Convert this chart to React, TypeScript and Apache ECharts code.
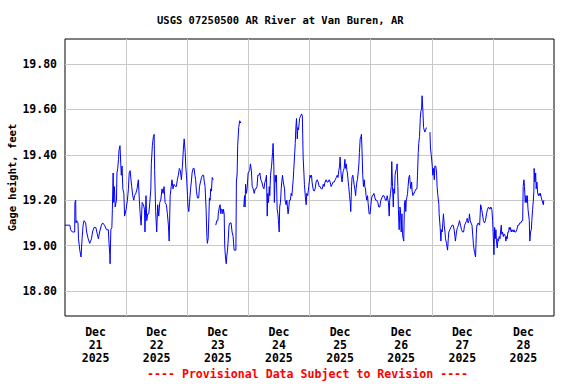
import React, { useEffect, useRef } from "react";
import * as echarts from "echarts";

// Gage height (feet), [hours since Dec 21 00:00, value]; null = data gap
const dec21: (number | null)[][] = [
  [0, 19.09], [1.9, 19.09], [2.2, 19.07], [2.9, 19.06], [3.8, 19.06], [3.9, 19.19], [4.2, 19.2], [4.3, 19.1], [4.6, 19.11], [5.1, 19.1],
  [5.3, 19.03], [5.8, 18.98], [6.3, 18.95], [6.7, 19.03], [7.1, 19.09], [7.5, 19.11], [8.1, 19.1], [8.5, 19.06], [9.1, 19.03], [9.7, 19.01],
  [10.4, 19.03], [10.8, 19.06], [11.4, 19.08], [12.1, 19.08], [12.5, 19.06], [13.1, 19.03], [13.6, 19.06], [14.3, 19.09], [14.8, 19.1], [15.5, 19.09],
  [16.3, 19.07], [17.0, 19.07], [17.3, 19.01], [17.6, 18.96], [17.7, 18.92], [18.0, 19.07], [18.4, 19.08], [18.6, 19.16], [18.9, 19.32], [19.1, 19.19],
  [19.4, 19.26], [19.7, 19.17], [20.2, 19.2], [20.4, 19.32], [20.7, 19.34], [21.0, 19.38], [21.2, 19.42], [21.6, 19.44], [21.9, 19.36], [22.1, 19.31],
  [22.4, 19.35], [22.7, 19.25], [23.1, 19.23], [23.4, 19.13],
];
const dec22: (number | null)[][] = [
  [24.0, 19.16], [24.5, 19.2], [24.9, 19.25], [25.2, 19.32], [25.6, 19.33], [25.9, 19.29], [26.2, 19.26], [26.6, 19.22], [27.0, 19.2], [27.3, 19.22],
  [27.8, 19.23], [28.3, 19.25], [28.8, 19.29], [29.2, 19.2], [29.5, 19.14], [29.9, 19.09], [30.3, 19.19], [30.8, 19.18], [31.2, 19.16], [31.4, 19.06],
  [31.8, 19.22], [32.1, 19.11], [32.5, 19.14], [32.9, 19.14], [33.3, 19.19], [33.7, 19.25], [33.9, 19.36], [34.3, 19.44], [34.7, 19.48], [35.0, 19.49],
  [35.2, 19.33], [35.6, 19.15], [36.0, 19.06], [36.4, 19.18], [36.8, 19.13], [37.2, 19.19], [37.6, 19.2], [38.1, 19.25], [38.5, 19.23], [38.9, 19.26],
  [39.3, 19.19], [39.8, 19.18], [40.2, 19.14], [40.6, 19.09], [40.9, 19.02], [41.3, 19.22], [41.7, 19.26], [42.0, 19.29], [42.4, 19.25], [42.8, 19.27],
  [43.4, 19.26], [43.7, 19.26], [44.1, 19.29], [44.5, 19.31], [44.9, 19.34], [45.3, 19.33], [45.7, 19.29], [46.1, 19.35], [46.5, 19.43], [46.8, 19.47],
  [47.2, 19.41], [47.4, 19.35], [47.7, 19.31],
];
const dec23: (number | null)[][] = [
  [48.1, 19.22], [48.3, 19.17], [48.6, 19.15], [48.9, 19.19], [49.3, 19.25], [49.6, 19.28], [49.9, 19.32], [50.3, 19.34], [50.7, 19.34], [51.0, 19.31],
  [51.3, 19.29], [51.6, 19.24], [52.0, 19.21], [52.5, 19.21], [52.8, 19.26], [53.2, 19.28], [53.6, 19.3], [54.0, 19.31], [54.4, 19.31], [54.7, 19.28],
  [55.0, 19.26], [55.4, 19.16], [55.7, 19.04], [55.9, 19.01], [56.2, 19.03], [56.5, 19.13], [56.7, 19.21], [57.0, 19.2], [57.2, 19.25], [57.5, 19.24],
  [57.8, 19.3], [58.2, 19.29], [58.6, null], [59.2, 19.09], [59.6, 19.11], [60.0, 19.11], [60.2, 19.14], [60.6, 19.17], [60.9, 19.18], [61.2, 19.14],
  [61.4, 19.16], [61.7, 19.16], [62.0, 19.14], [62.2, 19.16], [62.5, 19.14], [62.7, 19.0], [63.0, 18.95], [63.3, 18.92], [63.5, 18.95], [63.8, 18.98],
  [64.0, 19.01], [64.4, 19.09], [64.8, 19.1], [65.2, 19.1], [65.6, 19.06], [66.0, 19.04], [66.4, 18.98], [66.7, 18.98], [67.1, 18.98], [67.3, 19.28],
  [67.6, 19.32], [67.8, 19.44], [68.2, 19.52], [68.6, 19.55], [69.0, 19.54], [69.5, null], [70.2, 19.17], [70.5, 19.22], [70.7, 19.17], [70.9, 19.27],
  [71.2, 19.23], [71.5, 19.25], [71.9, 19.32],
];
const dec24: (number | null)[][] = [
  [72.5, 19.33], [72.8, 19.36], [73.2, 19.33], [73.5, 19.26], [73.9, 19.25], [74.3, 19.23], [74.7, 19.25], [75.0, 19.25], [75.4, 19.26], [75.7, 19.31],
  [76.1, 19.31], [76.5, 19.32], [76.9, 19.29], [77.3, 19.28], [77.7, 19.26], [78.1, 19.25], [78.5, 19.28], [78.8, 19.29], [79.1, 19.31], [79.4, 19.13],
  [79.6, 19.23], [79.9, 19.19], [80.2, 19.26], [80.4, 19.22], [80.7, 19.31], [81.1, 19.35], [81.5, 19.41], [81.7, 19.45], [82.0, 19.35], [82.2, 19.19],
  [82.5, 19.31], [82.8, 19.28], [83.0, 19.31], [83.3, 19.16], [83.6, 19.14], [83.8, 19.11], [84.1, 19.06], [84.3, 19.17], [84.6, 19.19], [84.9, 19.25],
  [85.1, 19.28], [85.4, 19.31], [85.7, 19.28], [85.9, 19.28], [86.2, 19.25], [86.4, 19.2], [86.8, 19.18], [87.1, 19.2], [87.4, 19.16], [87.6, 19.14],
  [87.9, 19.17], [88.1, 19.2], [88.5, 19.2], [88.8, 19.23], [89.1, 19.22], [89.3, 19.25], [89.6, 19.29], [89.8, 19.33], [90.1, 19.39], [90.4, 19.45],
  [90.6, 19.51], [90.9, 19.56], [91.2, 19.47], [91.4, 19.52], [91.7, 19.51], [92.1, 19.56], [92.5, 19.57], [92.9, 19.58], [93.2, 19.57], [93.5, 19.39],
  [93.8, 19.32], [94.0, 19.27], [94.4, 19.21], [94.7, 19.18], [94.9, 19.23], [95.3, 19.22], [95.7, 19.26],
];
const dec25: (number | null)[][] = [
  [96.2, 19.31], [96.5, 19.3], [96.8, 19.31], [97.0, 19.28], [97.4, 19.25], [97.8, 19.24], [98.2, 19.25], [98.6, 19.28], [99.0, 19.29], [99.4, 19.28],
  [99.8, 19.26], [100.2, 19.26], [100.6, 19.25], [101.0, 19.25], [101.4, 19.27], [101.7, 19.26], [102.1, 19.28], [102.5, 19.29], [102.9, 19.28], [103.3, 19.28],
  [103.7, 19.29], [104.1, 19.28], [104.5, 19.26], [104.9, 19.27], [105.3, 19.28], [105.7, 19.28], [106.1, 19.29], [106.5, 19.3], [106.9, 19.31], [107.2, 19.3],
  [107.5, 19.33], [107.8, 19.35], [108.0, 19.39], [108.3, 19.33], [108.6, 19.29], [108.8, 19.28], [109.1, 19.32], [109.3, 19.33], [109.6, 19.34], [109.9, 19.38],
  [110.1, 19.34], [110.4, 19.36], [110.7, 19.33], [110.9, 19.32], [111.2, 19.28], [111.4, 19.26], [111.7, 19.22], [112.0, 19.19], [112.2, 19.15], [112.5, 19.26],
  [112.7, 19.3], [113.0, 19.31], [113.3, 19.29], [113.5, 19.27], [113.8, 19.25], [114.1, 19.22], [114.3, 19.25], [114.6, 19.28], [114.8, 19.29], [115.1, 19.32],
  [115.4, 19.36], [115.6, 19.41], [115.9, 19.47], [116.2, 19.48], [116.4, 19.49], [116.7, 19.39], [116.9, 19.31], [117.2, 19.26], [117.5, 19.29], [117.7, 19.26],
  [118.0, 19.25], [118.2, 19.22], [118.5, 19.2], [118.8, 19.22], [119.0, 19.19], [119.4, 19.14], [119.8, 19.14],
];
const dec26: (number | null)[][] = [
  [120.1, 19.18], [120.3, 19.2], [120.6, 19.22], [120.9, 19.22], [121.3, 19.23], [121.7, 19.21], [122.0, 19.2], [122.4, 19.2], [122.8, 19.19], [123.2, 19.17],
  [123.6, 19.17], [124.0, 19.2], [124.4, 19.21], [124.8, 19.22], [125.2, 19.22], [125.6, 19.21], [125.8, 19.2], [126.2, 19.2], [126.5, 19.22], [126.8, 19.2],
  [127.0, 19.19], [127.3, 19.13], [127.5, 19.2], [127.8, 19.23], [128.1, 19.26], [128.3, 19.37], [128.6, 19.26], [128.9, 19.17], [129.1, 19.25], [129.4, 19.23],
  [129.6, 19.31], [129.9, 19.33], [130.2, 19.34], [130.4, 19.36], [130.7, 19.26], [130.9, 19.16], [131.2, 19.07], [131.5, 19.17], [131.7, 19.16], [132.0, 19.06],
  [132.3, 19.14], [132.5, 19.05], [132.8, 19.03], [133.0, 19.02], [133.3, 19.19], [133.6, 19.2], [133.8, 19.15], [134.0, 19.2], [134.2, 19.21], [134.5, 19.23],
  [134.7, 19.26], [135.0, 19.3], [135.3, 19.31], [135.5, 19.28], [135.8, 19.25], [136.1, 19.28], [136.3, 19.24], [136.6, 19.22], [136.8, 19.23], [137.1, 19.23],
  [137.4, 19.24], [137.6, 19.24], [137.9, 19.25], [138.2, 19.25], [138.4, 19.31], [138.7, 19.41], [138.9, 19.45], [139.2, 19.48], [139.5, 19.56], [139.7, 19.59],
  [140.0, 19.6], [140.2, 19.66], [140.5, 19.6], [140.8, 19.52], [141.0, 19.51], [141.3, 19.5], [141.6, 19.51], [141.9, 19.52], [142.1, 19.52], [142.6, null],
  [143.3, 19.5], [143.5, 19.43], [143.8, 19.4],
];
const dec27: (number | null)[][] = [
  [144.2, 19.35], [144.4, 19.31], [144.7, 19.34], [145.0, 19.29], [145.2, 19.35], [145.6, 19.35], [145.9, 19.32], [146.1, 19.26], [146.4, 19.22], [146.8, 19.18],
  [146.9, 19.14], [147.3, 19.08], [147.6, 19.02], [147.8, 19.07], [148.1, 19.06], [148.4, 19.11], [148.6, 19.14], [148.9, 19.09], [149.2, 19.06], [149.4, 19.03],
  [149.8, 19.01], [150.2, 18.98], [150.5, 19.03], [150.7, 19.06], [151.1, 19.07], [151.5, 19.08], [152.0, 19.09], [152.4, 19.09], [152.8, 19.07], [153.1, 19.04],
  [153.3, 19.02], [153.7, 19.06], [154.1, 19.08], [154.5, 19.09], [154.9, 19.11], [155.3, 19.09], [155.7, 19.07], [156.1, 19.06], [156.5, 19.06], [156.9, 19.09],
  [157.3, 19.1], [157.7, 19.11], [157.9, 19.12], [158.3, 19.1], [158.6, 19.11], [158.8, 19.14], [159.1, 19.11], [159.4, 19.1], [159.8, 19.09], [160.0, 19.06],
  [160.4, 19.0], [160.8, 18.97], [161.2, 18.95], [161.5, 19.05], [161.7, 19.09], [162.0, 19.09], [162.2, 19.1], [162.8, 19.09], [163.2, 19.18], [163.6, 19.16],
  [163.9, 19.14], [164.3, 19.11], [164.7, 19.1], [165.1, 19.11], [165.5, 19.14], [165.9, 19.16], [166.3, 19.17], [166.8, 19.16], [167.2, 19.17], [167.6, 19.16],
  [167.9, 19.11],
];
const dec28: (number | null)[][] = [
  [168.1, 19.06], [168.4, 18.96], [168.7, 19.08], [168.9, 19.03], [169.2, 19.07], [169.4, 19.02], [169.7, 18.99], [170.0, 19.03], [170.2, 19.02], [170.5, 19.04],
  [170.8, 19.03], [171.0, 19.06], [171.3, 19.09], [171.5, 19.05], [171.8, 19.06], [172.1, 19.04], [172.3, 19.05], [172.6, 19.05], [172.9, 19.04], [173.1, 19.02],
  [173.4, 19.04], [173.6, 19.03], [173.9, 19.06], [174.2, 19.06], [174.4, 19.08], [174.7, 19.07], [174.9, 19.08], [175.2, 19.06], [175.5, 19.07], [175.7, 19.07],
  [176.0, 19.06], [176.3, 19.07], [176.6, 19.06], [177.0, 19.06], [177.4, 19.07], [177.8, 19.09], [178.2, 19.09], [178.6, 19.1], [179.0, 19.1], [179.4, 19.11],
  [179.7, 19.11], [179.9, 19.26], [180.2, 19.29], [180.4, 19.26], [180.7, 19.19], [181.0, 19.22], [181.2, 19.19], [181.5, 19.22], [181.8, 19.16], [182.0, 19.16],
  [182.3, 19.11], [182.5, 19.02], [182.8, 19.06], [183.1, 19.07], [183.3, 19.11], [183.6, 19.16], [183.9, 19.2], [184.1, 19.24], [184.2, 19.34], [184.5, 19.28],
  [184.8, 19.32], [185.0, 19.25], [185.3, 19.28], [185.6, 19.23], [185.9, 19.22], [186.2, 19.23], [186.5, 19.22], [186.7, 19.23], [187.0, 19.21], [187.3, 19.2],
  [187.5, 19.2], [187.8, 19.18], [188.0, 19.2], [188.2, 19.2],
];

const dayLabels = ["Dec\n21\n2025", "Dec\n22\n2025", "Dec\n23\n2025", "Dec\n24\n2025", "Dec\n25\n2025", "Dec\n26\n2025", "Dec\n27\n2025", "Dec\n28\n2025"];
const yMin = 18.69;
const yMax = 19.91;
const hoursSpan = 192;

const titleText = "USGS 07250500 AR River at Van Buren, AR";
const footerText = "---- Provisional Data Subject to Revision ----";
const yName = "Gage height, feet";

const FONT = "'DejaVu Sans Mono', monospace";

export default function App() {
  const ref = useRef<HTMLDivElement>(null);
  useEffect(() => {
    document.body.style.margin = "0";
    if (!ref.current) return;
    const chart = echarts.init(ref.current, null, { renderer: "svg" });
    const data = [...dec21, ...dec22, ...dec23, ...dec24, ...dec25, ...dec26, ...dec27, ...dec28];
    chart.setOption({
      animation: false,
      backgroundColor: "#fff",
      title: [
        {
          text: titleText,
          left: 157,
          top: 14,
          padding: 0,
          textStyle: { fontFamily: FONT, fontSize: 10.5, fontWeight: "bold", color: "#000" },
        },
        {
          text: footerText,
          left: 147,
          top: 368,
          padding: 0,
          textStyle: { fontFamily: FONT, fontSize: 11.6, fontWeight: "bold", color: "#ff0000" },
        },
      ],
      grid: {
        left: 65,
        right: 22,
        top: 39,
        bottom: 68,
        show: true,
        borderColor: "#000",
        borderWidth: 1,
        backgroundColor: "transparent",
        containLabel: false,
        outerBoundsMode: "none",
      },
      xAxis: [
        {
          type: "category",
          data: dayLabels,
          boundaryGap: true,
          axisLine: { show: false },
          axisTick: { show: false },
          axisLabel: {
            interval: 0,
            margin: 9,
            fontFamily: FONT,
            fontSize: 11.5,
            fontWeight: "bold",
            lineHeight: 13,
            color: "#000",
          },
          splitLine: { show: true, interval: 0, showMinLine: false, showMaxLine: false, lineStyle: { color: "#c8c8c8", width: 1 } },
        },
        {
          type: "value",
          min: 0,
          max: hoursSpan,
          show: false,
          splitLine: { show: false },
        },
      ],
      yAxis: {
        type: "value",
        min: yMin,
        max: yMax,
        splitNumber: 5,
        name: yName,
        nameLocation: "middle",
        nameGap: 48,
        nameMoveOverlap: false,
        nameTextStyle: { fontFamily: FONT, fontSize: 10.5, fontWeight: "bold", color: "#000" },
        axisLine: { show: false },
        axisTick: { show: false },
        axisLabel: {
          margin: 8,
          showMinLabel: false,
          showMaxLabel: false,
          fontFamily: FONT,
          fontSize: 11.5,
          fontWeight: "bold",
          color: "#000",
          formatter: (v: number) => v.toFixed(2),
        },
        splitLine: { show: true, showMinLine: false, showMaxLine: false, lineStyle: { color: "#c8c8c8", width: 1 } },
      },
      series: [
        {
          type: "line",
          xAxisIndex: 1,
          data,
          showSymbol: false,
          connectNulls: false,
          lineStyle: { color: "#0000ff", width: 1 },
          itemStyle: { color: "#0000ff" },
          z: 3,
        },
      ],
    });
    return () => chart.dispose();
  }, []);
  return <div ref={ref} style={{ width: 576, height: 384 }} />;
}
